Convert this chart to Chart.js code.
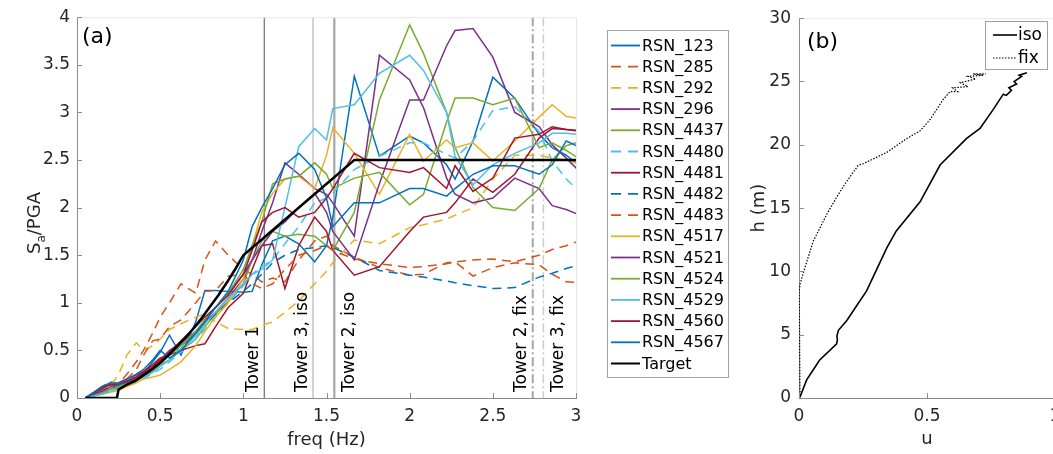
<!DOCTYPE html>
<html>
<head>
<meta charset="utf-8">
<script src="https://cdn.jsdelivr.net/npm/chart.js@4.4.1/dist/chart.umd.min.js"></script>
<style>
html, body { margin: 0; padding: 0; background: #fff; overflow: hidden; width: 1053px; height: 454px; }
#boxA { position: absolute; left: 0; top: 0; }
#boxB { position: absolute; left: 740px; top: 0; }
</style>
</head>
<body>
<div id="boxA"><canvas id="chartA" width="740" height="454"></canvas></div>
<div id="boxB"><canvas id="chartB" width="340" height="454"></canvas></div>
<script>
// frequencies (Hz) at which the spectra were read
const freq = [0.05, 0.1, 0.15, 0.2, 0.25, 0.3, 0.357, 0.4, 0.455, 0.5,
  0.556, 0.625, 0.714, 0.769, 0.833, 0.909, 1.0, 1.053, 1.111, 1.176,
  1.25, 1.333, 1.429, 1.5, 1.538, 1.667, 1.818, 2.0, 2.083, 2.222,
  2.273, 2.381, 2.5, 2.632, 2.778, 2.857, 2.941, 3.125];

// Sa/PGA for each record
const rsn123 = [0, 0.04, 0.1, 0.15, 0.14, 0.17, 0.22, 0.26, 0.38, 0.48,
  0.66, 0.45, 0.8, 1.13, 1.13, 1.12, 1.11, 1.12, 1.4, 1.65,
  1.7, 1.62, 1.43, 1.6, 1.9, 3.38, 2.54, 2.75, 2.68, 2.45,
  2.3, 2.7, 3.37, 3.15, 2.77, 2.63, 2.55, 2.3];
const rsn285 = [0, 0.05, 0.12, 0.17, 0.15, 0.25, 0.38, 0.5, 0.68, 0.85,
  1.0, 1.2, 1.1, 1.45, 1.65, 1.5, 1.35, 1.3, 1.22, 1.26,
  1.22, 1.45, 1.65, 1.7, 1.6, 1.48, 1.37, 1.29, 1.3, 1.42,
  1.43, 1.45, 1.46, 1.43, 1.5, 1.56, 1.6, 1.72];
const rsn292 = [0, 0.05, 0.08, 0.12, 0.25, 0.45, 0.58, 0.5, 0.55, 0.62,
  0.72, 0.78, 0.85, 0.88, 0.8, 0.73, 0.72, 0.72, 0.76, 0.8,
  0.9, 1.02, 1.2, 1.33, 1.42, 1.66, 1.62, 1.79, 1.82, 1.88,
  1.92, 2.0, 2.3, 2.55, 2.55, 2.52, 2.5, 2.4];
const rsn296 = [0, 0.03, 0.06, 0.1, 0.13, 0.16, 0.2, 0.24, 0.3, 0.36,
  0.45, 0.55, 0.68, 0.8, 0.9, 1.05, 1.25, 1.45, 1.75, 2.05,
  2.47, 2.35, 2.2, 2.14, 2.05, 1.7, 3.6, 3.34, 3.05, 2.31,
  2.14, 2.05, 2.1, 2.31, 2.2, 2.02, 1.98, 1.85];
const rsn4437 = [0, 0.03, 0.06, 0.1, 0.12, 0.15, 0.19, 0.22, 0.28, 0.35,
  0.4, 0.5, 0.62, 0.75, 0.88, 1.02, 1.2, 1.45, 1.65, 1.75,
  1.7, 1.72, 1.7, 1.6, 1.55, 1.95, 3.13, 3.92, 3.62, 3.0,
  2.63, 2.21, 2.0, 1.97, 2.2, 2.5, 2.65, 2.75];
const rsn4480 = [0, 0.03, 0.05, 0.08, 0.1, 0.13, 0.17, 0.2, 0.26, 0.3,
  0.38, 0.48, 0.62, 0.72, 0.85, 1.0, 1.18, 1.3, 1.38, 1.45,
  1.62, 1.8, 2.05, 2.1, 2.15, 2.4, 2.54, 2.68, 2.68, 2.56,
  2.52, 2.7, 3.02, 3.06, 2.8, 2.49, 2.3, 2.0];
const rsn4481 = [0, 0.06, 0.12, 0.14, 0.16, 0.2, 0.24, 0.28, 0.35, 0.42,
  0.45, 0.5, 0.55, 0.57, 0.75, 0.95, 1.1, 1.35, 1.6, 1.62,
  1.15, 1.6, 1.9, 1.75, 1.55, 1.29, 1.38, 1.75, 1.9, 1.95,
  2.05, 2.3, 2.16, 2.35, 2.73, 2.83, 2.82, 2.8];
const rsn4482 = [0, 0.06, 0.08, 0.1, 0.14, 0.17, 0.2, 0.24, 0.3, 0.38,
  0.45, 0.55, 0.68, 0.78, 0.88, 1.0, 1.12, 1.2, 1.3, 1.42,
  1.5, 1.56, 1.58, 1.6, 1.58, 1.48, 1.34, 1.29, 1.27, 1.23,
  1.21, 1.18, 1.15, 1.16, 1.27, 1.31, 1.36, 1.45];
const rsn4483 = [0, 0.03, 0.08, 0.12, 0.15, 0.2, 0.3, 0.45, 0.6, 0.62,
  0.75, 0.82, 1.0, 1.12, 1.13, 1.28, 1.3, 1.2, 1.15, 1.2,
  1.35, 1.5, 1.55, 1.6, 1.55, 1.46, 1.41, 1.37, 1.38, 1.41,
  1.43, 1.28, 1.37, 1.42, 1.4, 1.3, 1.22, 1.2];
const rsn4517 = [0, 0.02, 0.04, 0.06, 0.08, 0.12, 0.16, 0.2, 0.22, 0.24,
  0.3, 0.38, 0.55, 0.7, 0.85, 1.0, 1.25, 1.6, 1.95, 2.15,
  2.3, 2.33, 2.2, 2.55, 2.84, 2.57, 2.14, 2.77, 2.49, 2.71,
  2.63, 2.68, 2.49, 2.7, 2.95, 3.08, 2.96, 2.9];
const rsn4521 = [0, 0.04, 0.07, 0.12, 0.15, 0.18, 0.2, 0.25, 0.32, 0.4,
  0.5, 0.58, 0.7, 0.82, 0.95, 1.1, 1.3, 1.45, 1.6, 1.75,
  1.85, 2.0, 2.15, 1.95, 1.75, 1.45, 2.25, 3.13, 3.13, 3.7,
  3.86, 3.88, 3.58, 3.0, 2.85, 2.66, 2.52, 2.2];
const rsn4524 = [0, 0.02, 0.05, 0.09, 0.11, 0.14, 0.18, 0.23, 0.3, 0.38,
  0.45, 0.55, 0.7, 0.82, 0.95, 1.1, 1.35, 1.6, 1.85, 2.25,
  2.3, 2.33, 2.47, 2.35, 2.2, 2.31, 2.37, 2.03, 2.14, 2.9,
  3.15, 3.15, 3.08, 3.15, 2.63, 2.68, 2.6, 2.4];
const rsn4529 = [0, 0.02, 0.04, 0.07, 0.1, 0.14, 0.18, 0.22, 0.27, 0.33,
  0.4, 0.52, 0.65, 0.78, 0.9, 1.05, 1.2, 1.3, 1.35, 1.45,
  2.0, 2.64, 2.83, 2.71, 3.04, 3.08, 3.41, 3.6, 3.44, 3.0,
  2.54, 2.24, 2.45, 2.57, 2.68, 2.78, 2.78, 2.75];
const rsn4560 = [0, 0.05, 0.1, 0.14, 0.15, 0.18, 0.22, 0.27, 0.33, 0.4,
  0.48, 0.6, 0.75, 0.85, 0.95, 1.08, 1.3, 1.55, 1.85, 1.95,
  2.0, 1.9, 1.95, 2.1, 2.2, 2.57, 2.42, 2.37, 2.42, 2.2,
  2.44, 2.17, 2.31, 2.73, 2.77, 2.85, 2.82, 2.78];
const rsn4567 = [0, 0.05, 0.12, 0.16, 0.15, 0.2, 0.25, 0.3, 0.4, 0.5,
  0.42, 0.5, 0.68, 0.8, 0.95, 1.12, 1.45, 1.8, 2.0, 2.2,
  2.45, 2.57, 2.4, 2.1, 1.8, 2.05, 2.05, 2.2, 2.2, 2.12,
  2.2, 2.35, 2.44, 2.44, 2.35, 2.45, 2.7, 2.55];

const recordNames = ['RSN_123', 'RSN_285', 'RSN_292', 'RSN_296', 'RSN_4437', 'RSN_4480',
  'RSN_4481', 'RSN_4482', 'RSN_4483', 'RSN_4517', 'RSN_4521', 'RSN_4524',
  'RSN_4529', 'RSN_4560', 'RSN_4567'];
const recordValues = [rsn123, rsn285, rsn292, rsn296, rsn4437, rsn4480, rsn4481, rsn4482,
  rsn4483, rsn4517, rsn4521, rsn4524, rsn4529, rsn4560, rsn4567];

// target spectrum
const targetFreq = [0.05, 0.24, 0.25, 0.3, 0.35, 0.4, 0.45, 0.5, 0.55, 0.6,
  0.65, 0.7, 0.75, 0.8, 0.85, 0.9, 0.95, 1.0, 1.667, 3.0];
const targetSa = [0, 0, 0.09, 0.14, 0.18, 0.24, 0.3, 0.37, 0.45, 0.54,
  0.63, 0.73, 0.84, 0.96, 1.08, 1.21, 1.35, 1.5, 2.5, 2.5];

// tower frequencies
const towerFreq = [1.126, 1.419, 1.547, 2.74, 2.804];
const towerText = ['Tower 1', 'Tower 3, iso', 'Tower 2, iso', 'Tower 2, fix', 'Tower 3, fix'];

// panel (b) profiles
const isoU = [0, 0.004, 0.03, 0.08, 0.147, 0.15, 0.148, 0.154, 0.186, 0.264,
  0.343, 0.38, 0.473, 0.551, 0.655, 0.707, 0.759, 0.798, 0.81, 0.83,
  0.82, 0.85, 0.84, 0.87, 0.86, 0.89];
const isoH = [0, 0.1, 1.43, 2.98, 4.28, 4.6, 4.9, 5.35, 6.1, 8.46,
  11.85, 13.2, 15.5, 18.4, 20.5, 21.3, 22.8, 24.0, 23.9, 24.3,
  24.5, 24.8, 25.0, 25.4, 25.5, 25.7];
const fixU = [0, 0.004, 0.001, 0.004, 0.023, 0.056, 0.108, 0.154, 0.186, 0.232,
  0.25, 0.343, 0.421, 0.473, 0.512, 0.564, 0.59, 0.62, 0.6, 0.66,
  0.63, 0.69, 0.66, 0.72, 0.68, 0.73];
const fixH = [0, 0.1, 8.5, 9.0, 10.3, 12.4, 14.5, 16.1, 17.1, 18.4,
  18.5, 19.4, 20.5, 21.1, 22.0, 23.6, 24.2, 24.2, 24.5, 24.6,
  24.9, 25.2, 25.4, 25.5, 25.6, 25.6];

const colorsA = ['#0072BD', '#D95319', '#EDB120', '#7E2F8E', '#77AC30', '#4DBEEE', '#A2142F',
  '#0072BD', '#D95319', '#EDB120', '#7E2F8E', '#77AC30', '#4DBEEE', '#A2142F', '#0072BD'];
const dashedA = [false, true, true, false, false, true, false, true, true, false, false, false, false, false, false];

const FONT = '"DejaVu Sans", sans-serif';
const TXT = '#262626';
const plainTick = v => String(v);

let datasetsA = recordNames.map((name, i) => ({
  label: name,
  data: freq.map((f, j) => ({x: f, y: recordValues[i][j]})),
  borderColor: colorsA[i],
  borderWidth: 1.5,
  borderDash: dashedA[i] ? [9, 6] : [],
  pointRadius: 0,
  order: 16 - i
}));
datasetsA.push({
  label: 'Target',
  data: targetFreq.map((f, j) => ({x: f, y: targetSa[j]})),
  borderColor: '#000',
  borderWidth: 2.5,
  borderDash: [],
  pointRadius: 0,
  order: 0
});

// inward tick marks and faint top/right box
function boxTicks(chart, len) {
  const ctx = chart.ctx, a = chart.chartArea;
  const xs = chart.scales.x, ys = chart.scales.y;
  ctx.save();
  ctx.strokeStyle = '#e6e6e6';
  ctx.lineWidth = 1;
  ctx.beginPath();
  ctx.moveTo(a.left, a.top + 0.5); ctx.lineTo(a.right + 0.5, a.top + 0.5); ctx.lineTo(a.right + 0.5, a.bottom);
  ctx.stroke();
  ctx.strokeStyle = '#8c8c8c';
  ctx.beginPath();
  xs.ticks.forEach(t => {
    const px = Math.round(xs.getPixelForValue(t.value)) + 0.5;
    ctx.moveTo(px, a.bottom); ctx.lineTo(px, a.bottom - len);
  });
  ys.ticks.forEach(t => {
    const py = Math.round(ys.getPixelForValue(t.value)) + 0.5;
    ctx.moveTo(a.left, py); ctx.lineTo(a.left + len, py);
  });
  ctx.stroke();
  ctx.restore();
}

const towerPlugin = {
  id: 'towers',
  beforeDatasetsDraw(chart) {
    const ctx = chart.ctx, a = chart.chartArea, xs = chart.scales.x;
    const cols = ['#707070', '#c4c4c4', '#a6a6a6', '#a6a6a6', '#cccccc'];
    const widths = [1.2, 1.5, 2.2, 2, 1.5];
    const dash = [[], [], [], [9, 3, 2, 3], [9, 3, 2, 3]];
    ctx.save();
    towerFreq.forEach((f, i) => {
      const px = xs.getPixelForValue(f);
      ctx.strokeStyle = cols[i];
      ctx.lineWidth = widths[i];
      ctx.setLineDash(dash[i]);
      ctx.beginPath(); ctx.moveTo(px, a.top); ctx.lineTo(px, a.bottom); ctx.stroke();
    });
    ctx.restore();
  },
  afterDatasetsDraw(chart) {
    const ctx = chart.ctx, xs = chart.scales.x;
    const rightSide = [false, false, true, false, true];
    ctx.save();
    ctx.font = '17px ' + FONT;
    ctx.fillStyle = '#000';
    ctx.textBaseline = 'alphabetic';
    ctx.textAlign = 'left';
    towerFreq.forEach((f, i) => {
      const px = xs.getPixelForValue(f);
      const bx = rightSide[i] ? px + 20 : px - 6.5;
      ctx.save();
      ctx.translate(bx, 392);
      ctx.rotate(-Math.PI / 2);
      ctx.fillText(towerText[i], 0, 0);
      ctx.restore();
    });
    ctx.restore();
  }
};

const decorA = {
  id: 'decorA',
  afterDraw(chart) {
    const ctx = chart.ctx;
    boxTicks(chart, 5);
    ctx.save();
    // panel letter
    ctx.fillStyle = '#000';
    ctx.font = '22px ' + FONT;
    ctx.textBaseline = 'middle';
    ctx.fillText('(a)', 82, 37);
    // y title S_a/PGA
    ctx.fillStyle = TXT;
    ctx.translate(40, 0);
    ctx.rotate(-Math.PI / 2);
    ctx.textBaseline = 'alphabetic';
    ctx.font = '18px ' + FONT;
    let y0 = -254;
    ctx.fillText('S', y0, 0);
    y0 += ctx.measureText('S').width;
    ctx.font = '12px ' + FONT;
    ctx.fillText('a', y0, 5);
    y0 += ctx.measureText('a').width;
    ctx.font = '18px ' + FONT;
    ctx.fillText('/PGA', y0, 0);
    ctx.restore();
    // legend
    ctx.save();
    ctx.strokeStyle = '#a0a0a0';
    ctx.lineWidth = 1;
    ctx.strokeRect(607.5, 30.5, 121, 347);
    ctx.font = '16px ' + FONT;
    ctx.textBaseline = 'middle';
    ctx.fillStyle = '#000';
    chart.data.datasets.forEach((ds, i) => {
      const y = 45.5 + i * 21.2;
      ctx.strokeStyle = ds.borderColor;
      ctx.lineWidth = ds.borderWidth > 2 ? 2 : 1.8;
      ctx.setLineDash(ds.borderDash.length ? [10, 7] : []);
      ctx.beginPath(); ctx.moveTo(611, y); ctx.lineTo(640, y); ctx.stroke();
      ctx.setLineDash([]);
      ctx.fillText(ds.label, 642, y + 1);
    });
    ctx.restore();
  }
};

new Chart(document.getElementById('chartA'), {
  type: 'line',
  data: { datasets: datasetsA },
  options: {
    responsive: false,
    animation: false,
    layout: { padding: { left: 0, top: 15, right: 740 - 576, bottom: 0 } },
    plugins: { legend: { display: false }, tooltip: { enabled: false } },
    scales: {
      x: {
        type: 'linear', min: 0, max: 3,
        ticks: { stepSize: 0.5, color: TXT, font: { family: FONT, size: 17 }, padding: 8, maxRotation: 0, callback: plainTick },
        grid: { drawOnChartArea: false, drawTicks: false },
        border: { color: '#8c8c8c' },
        title: { display: true, text: 'freq (Hz)', color: TXT, font: { family: FONT, size: 18 }, padding: { top: 2, bottom: 3 } },
        afterFit: s => { s.height = 56; }
      },
      y: {
        min: 0, max: 4,
        ticks: { stepSize: 0.5, color: TXT, font: { family: FONT, size: 17 }, padding: 7, callback: plainTick },
        grid: { drawOnChartArea: false, drawTicks: false },
        border: { color: '#8c8c8c' },
        afterFit: s => { s.width = 77; }
      }
    }
  },
  plugins: [towerPlugin, decorA]
});

const decorB = {
  id: 'decorB',
  afterDraw(chart) {
    const ctx = chart.ctx;
    boxTicks(chart, 5);
    ctx.save();
    ctx.fillStyle = '#000';
    ctx.font = '22px ' + FONT;
    ctx.textBaseline = 'middle';
    ctx.fillText('(b)', 67, 42);
    // legend
    ctx.strokeStyle = '#a0a0a0';
    ctx.lineWidth = 1;
    ctx.strokeRect(245.5, 21.5, 62, 48);
    ctx.font = '17px ' + FONT;
    chart.data.datasets.forEach((ds, i) => {
      const y = 35 + i * 23;
      ctx.strokeStyle = '#000';
      ctx.lineWidth = ds.borderWidth;
      ctx.setLineDash(ds.borderDash);
      ctx.beginPath(); ctx.moveTo(253, y); ctx.lineTo(277, y); ctx.stroke();
      ctx.setLineDash([]);
      ctx.fillText(ds.label, 278, y + 1);
    });
    ctx.restore();
  }
};

new Chart(document.getElementById('chartB'), {
  type: 'line',
  data: {
    datasets: [
      { label: 'iso', data: isoU.map((u, j) => ({x: u, y: isoH[j]})), borderColor: '#000', borderWidth: 1.6, borderDash: [], pointRadius: 0 },
      { label: 'fix', data: fixU.map((u, j) => ({x: u, y: fixH[j]})), borderColor: '#000', borderWidth: 1.2, borderDash: [1.5, 1.5], pointRadius: 0 }
    ]
  },
  options: {
    responsive: false,
    animation: false,
    layout: { padding: { left: 0, top: 15, right: 340 - 315, bottom: 0 } },
    plugins: { legend: { display: false }, tooltip: { enabled: false } },
    scales: {
      x: {
        type: 'linear', min: 0, max: 1,
        ticks: { stepSize: 0.5, color: TXT, font: { family: FONT, size: 17 }, padding: 8, maxRotation: 0, callback: plainTick },
        grid: { drawOnChartArea: false, drawTicks: false },
        border: { color: '#8c8c8c' },
        title: { display: true, text: 'u', color: TXT, font: { family: FONT, size: 18 }, padding: { top: 2, bottom: 4 } },
        afterFit: s => { s.height = 56; }
      },
      y: {
        min: 0, max: 30,
        ticks: { stepSize: 5, color: TXT, font: { family: FONT, size: 17 }, padding: 8, callback: plainTick },
        grid: { drawOnChartArea: false, drawTicks: false },
        border: { color: '#8c8c8c' },
        title: { display: true, text: 'h (m)', color: TXT, font: { family: FONT, size: 18 }, padding: { top: 9, bottom: 0 } },
        afterFit: s => { s.width = 59; }
      }
    }
  },
  plugins: [decorB]
});
</script>
</body>
</html>
